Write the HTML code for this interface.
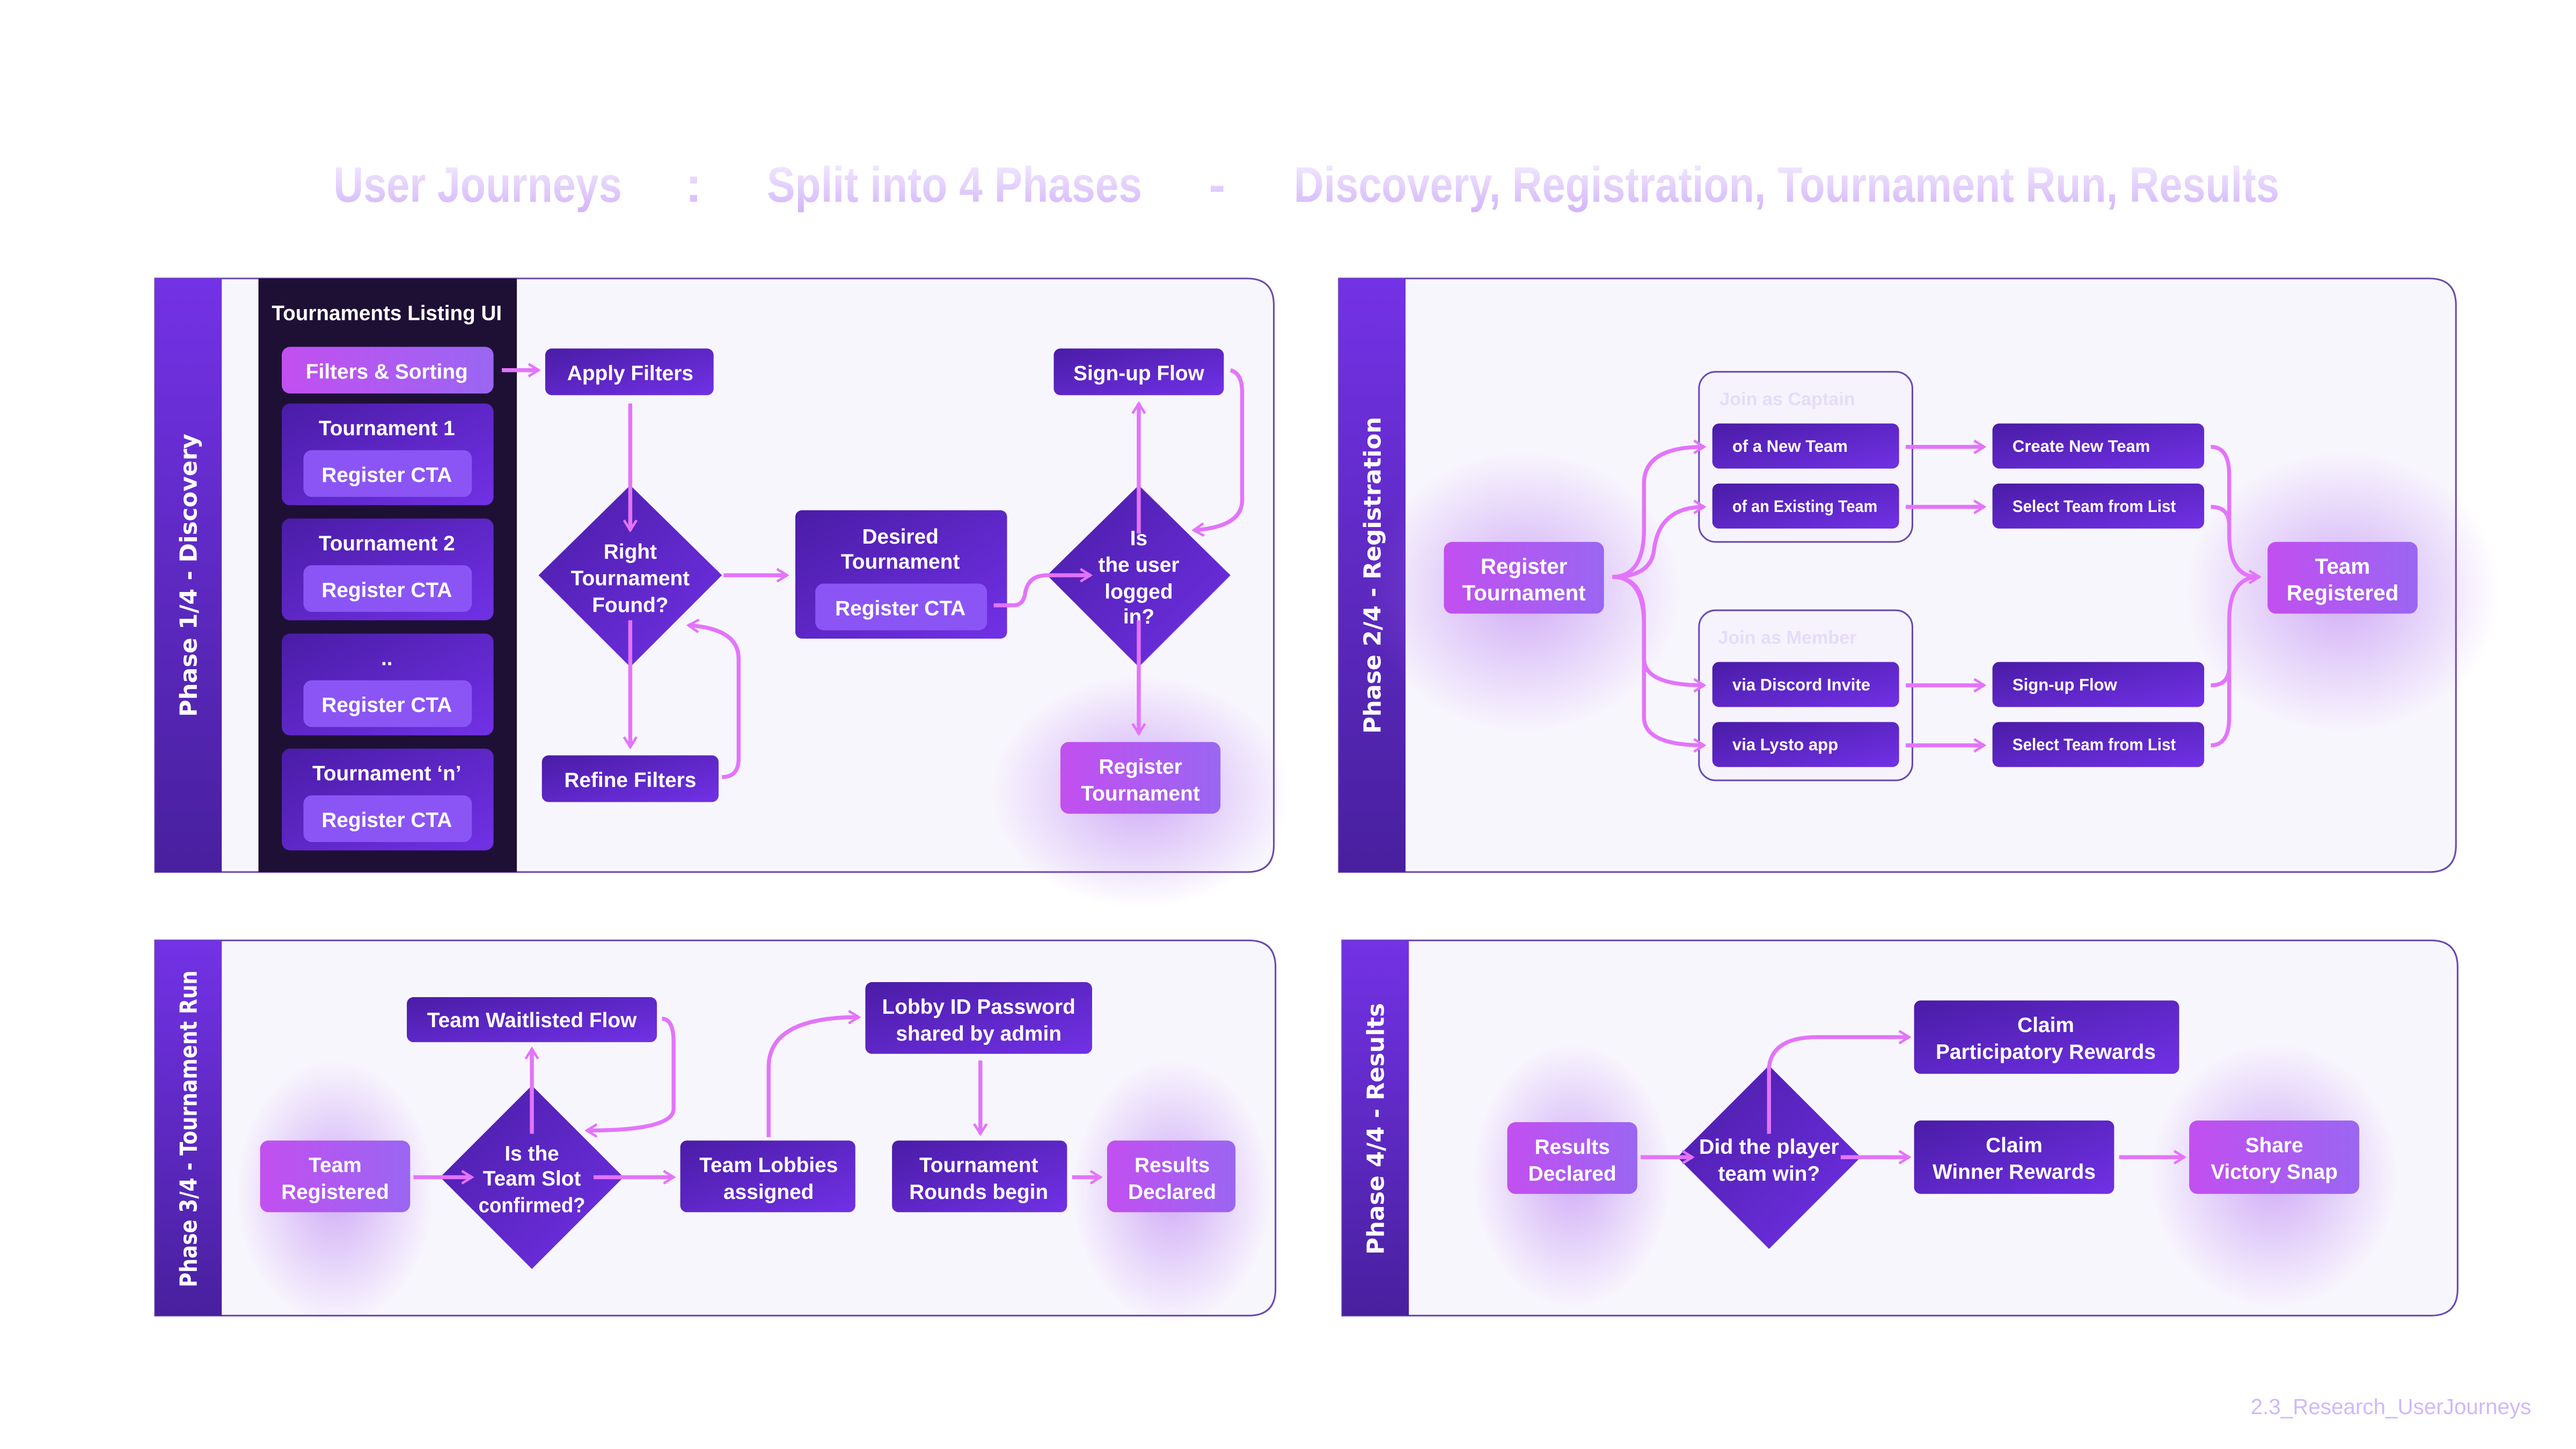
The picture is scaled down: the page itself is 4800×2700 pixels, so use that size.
<!DOCTYPE html>
<html><head><meta charset="utf-8"><style>
html,body{margin:0;padding:0;background:#fff;}
svg{display:block;}
text{font-family:"Liberation Sans Narrow","Liberation Sans",sans-serif;font-weight:bold;fill:#fff;text-anchor:middle;}
.s{font-family:"DejaVu Sans","Liberation Sans",sans-serif;font-weight:bold;}
</style></head><body>
<svg width="4800" height="2700" viewBox="0 0 1545 869" preserveAspectRatio="none" xmlns="http://www.w3.org/2000/svg">
<defs>
<linearGradient id="box" x1="0" y1="0" x2="1" y2="1"><stop offset="0" stop-color="#4a1ca6"/><stop offset="1" stop-color="#7131e6"/></linearGradient>
<linearGradient id="pink" x1="0" y1="0" x2="1" y2="0"><stop offset="0" stop-color="#c24ff0"/><stop offset="1" stop-color="#9a66f2"/></linearGradient>
<linearGradient id="side" x1="0" y1="0" x2="0" y2="1"><stop offset="0" stop-color="#7332e6"/><stop offset="1" stop-color="#48209e"/></linearGradient>
<linearGradient id="title" x1="0" y1="0" x2="0" y2="1"><stop offset="0" stop-color="#f6f0ff"/><stop offset="1" stop-color="#d2b4f8"/></linearGradient>
<radialGradient id="glow"><stop offset="0" stop-color="#b070f0" stop-opacity="0.55"/><stop offset="1" stop-color="#b070f0" stop-opacity="0"/></radialGradient>
<marker id="ah" viewBox="0 0 12 12" refX="10" refY="6" markerWidth="9" markerHeight="9" markerUnits="userSpaceOnUse" orient="auto"><path d="M2,1 L10,6 L2,11" fill="none" stroke="#e374fa" stroke-width="2"/></marker>
</defs>
<style>.c{fill:none;stroke:#e374fa;stroke-width:2.4;marker-end:url(#ah);} .cn{fill:none;stroke:#e374fa;stroke-width:2.4;}</style>

<!-- Title -->
<g style="font-size:30px">
<text x="200" y="121" textLength="173" lengthAdjust="spacingAndGlyphs" style="fill:url(#title);text-anchor:start">User Journeys</text>
<text x="416" y="121" style="fill:url(#title)">:</text>
<text x="460" y="121" textLength="225" lengthAdjust="spacingAndGlyphs" style="fill:url(#title);text-anchor:start">Split into 4 Phases</text>
<text x="730" y="121" style="fill:url(#title)">-</text>
<text x="776" y="121" textLength="591" lengthAdjust="spacingAndGlyphs" style="fill:url(#title);text-anchor:start">Discovery, Registration, Tournament Run, Results</text>
</g>

<!-- Panels -->
<path d="M93,167 H748 Q764,167 764,183 V507 Q764,523 748,523 H93 Z" fill="#f8f6fd" stroke="#6a4bb0" stroke-width="1"/>
<rect x="93" y="167" width="40" height="356" fill="url(#side)"/>
<path d="M803,167 H1457 Q1473,167 1473,183 V507 Q1473,523 1457,523 H803 Z" fill="#f8f6fd" stroke="#6a4bb0" stroke-width="1"/>
<rect x="803" y="167" width="40" height="356" fill="url(#side)"/>
<path d="M93,564 H749 Q765,564 765,580 V773 Q765,789 749,789 H93 Z" fill="#f8f6fd" stroke="#6a4bb0" stroke-width="1"/>
<rect x="93" y="564" width="40" height="225" fill="url(#side)"/>
<path d="M805,564 H1458 Q1474,564 1474,580 V773 Q1474,789 1458,789 H805 Z" fill="#f8f6fd" stroke="#6a4bb0" stroke-width="1"/>
<rect x="805" y="564" width="40" height="225" fill="url(#side)"/>

<text class="s" transform="translate(118,345) rotate(-90)" style="font-size:14px">Phase 1/4 - Discovery</text>
<text class="s" transform="translate(828,345) rotate(-90)" style="font-size:14px">Phase 2/4 - Registration</text>
<text class="s" transform="translate(118,677) rotate(-90)" textLength="190" lengthAdjust="spacingAndGlyphs" style="font-size:14px">Phase 3/4 - Tournament Run</text>
<text class="s" transform="translate(830,677) rotate(-90)" style="font-size:14px">Phase 4/4 - Results</text>

<!-- glows -->
<ellipse cx="684" cy="475" rx="90" ry="70" fill="url(#glow)"/>
<ellipse cx="914" cy="355" rx="95" ry="85" fill="url(#glow)"/>
<ellipse cx="1405" cy="355" rx="95" ry="85" fill="url(#glow)"/>
<ellipse cx="201" cy="715" rx="60" ry="80" fill="url(#glow)"/>
<ellipse cx="703" cy="715" rx="60" ry="80" fill="url(#glow)"/>
<ellipse cx="943" cy="705" rx="60" ry="80" fill="url(#glow)"/>
<ellipse cx="1364" cy="705" rx="75" ry="80" fill="url(#glow)"/>

<!-- Phase 1 -->
<rect x="155" y="167" width="155" height="356" fill="#1e1035"/>
<g style="font-size:12.5px">
<text x="232" y="192" textLength="138" lengthAdjust="spacingAndGlyphs">Tournaments Listing UI</text>
<rect x="169" y="208" width="127" height="28" rx="5" fill="url(#pink)"/>
<text x="232" y="227">Filters &amp; Sorting</text>
<rect x="169" y="242" width="127" height="61" rx="5" fill="url(#box)"/><text x="232" y="261">Tournament 1</text>
<rect x="182" y="270" width="101" height="28" rx="5" fill="#8b55f5"/><text x="232" y="289">Register CTA</text>
<rect x="169" y="311" width="127" height="61" rx="5" fill="url(#box)"/><text x="232" y="330">Tournament 2</text>
<rect x="182" y="339" width="101" height="28" rx="5" fill="#8b55f5"/><text x="232" y="358">Register CTA</text>
<rect x="169" y="380" width="127" height="61" rx="5" fill="url(#box)"/><text x="232" y="399">..</text>
<rect x="182" y="408" width="101" height="28" rx="5" fill="#8b55f5"/><text x="232" y="427">Register CTA</text>
<rect x="169" y="449" width="127" height="61" rx="5" fill="url(#box)"/><text x="232" y="468">Tournament ‘n’</text>
<rect x="182" y="477" width="101" height="28" rx="5" fill="#8b55f5"/><text x="232" y="496">Register CTA</text>

<rect x="327" y="209" width="101" height="28" rx="4" fill="url(#box)"/><text x="378" y="228">Apply Filters</text>
<path d="M378,291 L433,345 L378,400 L323,345 Z" fill="url(#box)"/>
<text x="378" y="335">Right</text><text x="378" y="351">Tournament</text><text x="378" y="367">Found?</text>
<rect x="477" y="306" width="127" height="77" rx="4" fill="url(#box)"/>
<text x="540" y="326">Desired</text><text x="540" y="341">Tournament</text>
<rect x="489" y="350" width="103" height="28" rx="5" fill="#8b55f5"/><text x="540" y="369">Register CTA</text>
<path d="M683,291 L738,345 L683,400 L628,345 Z" fill="url(#box)"/>
<text x="683" y="327">Is</text><text x="683" y="343">the user</text><text x="683" y="359">logged</text><text x="683" y="374">in?</text>
<rect x="632" y="209" width="102" height="28" rx="4" fill="url(#box)"/><text x="683" y="228">Sign-up Flow</text>
<rect x="636" y="445" width="96" height="43" rx="5" fill="url(#pink)"/><text x="684" y="464">Register</text><text x="684" y="480">Tournament</text>
<rect x="325" y="453" width="106" height="28" rx="4" fill="url(#box)"/><text x="378" y="472">Refine Filters</text>
</g>
<path class="c" d="M301,222 H323"/>
<path class="c" d="M378,242 V318"/>
<path class="c" d="M434,345 H472"/>
<path class="c" d="M596,363 H608 Q614,363 615,355 Q617,345 628,345 H654"/>
<path class="c" d="M683,320 V242"/>
<path class="c" d="M738,222 Q745,224 745,235 V300 Q745,316 716,318"/>
<path class="c" d="M683,372 V440"/>
<path class="c" d="M378,372 V448"/>
<path class="c" d="M433,466 Q443,466 443,455 V395 Q443,377 413,375"/>

<!-- Phase 2 -->
<g style="font-size:10px">
<rect x="1019" y="223" width="128" height="102" rx="10" fill="#f6f3fd" stroke="#6a4bb0" stroke-width="1"/>
<text x="1072" y="243" style="font-size:11px;fill:#e6dcf8">Join as Captain</text>
<rect x="1019" y="366" width="128" height="102" rx="10" fill="#f6f3fd" stroke="#6a4bb0" stroke-width="1"/>
<text x="1072" y="386" style="font-size:11px;fill:#e6dcf8">Join as Member</text>
<rect x="1027" y="254" width="112" height="27" rx="4" fill="url(#box)"/><text x="1039" y="271" style="text-anchor:start">of a New Team</text>
<rect x="1027" y="290" width="112" height="27" rx="4" fill="url(#box)"/><text x="1039" y="307" textLength="87" lengthAdjust="spacingAndGlyphs" style="text-anchor:start">of an Existing Team</text>
<rect x="1027" y="397" width="112" height="27" rx="4" fill="url(#box)"/><text x="1039" y="414" style="text-anchor:start">via Discord Invite</text>
<rect x="1027" y="433" width="112" height="27" rx="4" fill="url(#box)"/><text x="1039" y="450" style="text-anchor:start">via Lysto app</text>
<rect x="1195" y="254" width="127" height="27" rx="4" fill="url(#box)"/><text x="1207" y="271" style="text-anchor:start">Create New Team</text>
<rect x="1195" y="290" width="127" height="27" rx="4" fill="url(#box)"/><text x="1207" y="307" textLength="98" lengthAdjust="spacingAndGlyphs" style="text-anchor:start">Select Team from List</text>
<rect x="1195" y="397" width="127" height="27" rx="4" fill="url(#box)"/><text x="1207" y="414" style="text-anchor:start">Sign-up Flow</text>
<rect x="1195" y="433" width="127" height="27" rx="4" fill="url(#box)"/><text x="1207" y="450" textLength="98" lengthAdjust="spacingAndGlyphs" style="text-anchor:start">Select Team from List</text>
</g>
<g style="font-size:13px">
<rect x="866" y="325" width="96" height="43" rx="5" fill="url(#pink)"/><text x="914" y="344">Register</text><text x="914" y="360">Tournament</text>
<rect x="1360" y="325" width="90" height="43" rx="5" fill="url(#pink)"/><text x="1405" y="344">Team</text><text x="1405" y="360">Registered</text>
</g>
<path class="c" d="M967,346 Q985,346 986,320 V290 Q986,268 1022,268"/>
<path class="c" d="M967,346 Q990,346 992,330 Q995,304 1022,304"/>
<path class="c" d="M967,346 Q986,346 986,370 V395 Q986,411 1022,411"/>
<path class="c" d="M967,346 Q986,346 986,375 V430 Q986,447 1022,447"/>
<path class="c" d="M1143,268 H1190"/><path class="c" d="M1143,304 H1190"/>
<path class="c" d="M1143,411 H1190"/><path class="c" d="M1143,447 H1190"/>
<path class="cn" d="M1326,268 Q1337,268 1337,285 V320 Q1337,346 1354,346"/>
<path class="cn" d="M1326,304 Q1337,304 1337,315"/>
<path class="cn" d="M1326,411 Q1337,411 1337,400"/>
<path class="c" d="M1326,447 Q1337,447 1337,430 V372 Q1337,346 1355,346"/>

<!-- Phase 3 -->
<g style="font-size:12.5px">
<rect x="156" y="684" width="90" height="43" rx="5" fill="url(#pink)"/><text x="201" y="703">Team</text><text x="201" y="719">Registered</text>
<path d="M319,651 L374,706 L319,761 L264,706 Z" fill="url(#box)"/>
<text x="319" y="696">Is the</text><text x="319" y="711">Team Slot</text><text x="319" y="727" textLength="64" lengthAdjust="spacingAndGlyphs">confirmed?</text>
<rect x="244" y="598" width="150" height="27" rx="4" fill="url(#box)"/><text x="319" y="616">Team Waitlisted Flow</text>
<rect x="408" y="684" width="105" height="43" rx="4" fill="url(#box)"/><text x="461" y="703">Team Lobbies</text><text x="461" y="719">assigned</text>
<rect x="519" y="589" width="136" height="43" rx="4" fill="url(#box)"/><text x="587" y="608">Lobby ID Password</text><text x="587" y="624">shared by admin</text>
<rect x="535" y="684" width="105" height="43" rx="4" fill="url(#box)"/><text x="587" y="703">Tournament</text><text x="587" y="719">Rounds begin</text>
<rect x="664" y="684" width="77" height="43" rx="5" fill="url(#pink)"/><text x="703" y="703">Results</text><text x="703" y="719">Declared</text>
</g>
<path class="c" d="M248,706 H283"/>
<path class="c" d="M319,680 V629"/>
<path class="c" d="M397,611 Q404,611 404,625 V665 Q404,678 352,678"/>
<path class="c" d="M356,706 H404"/>
<path class="c" d="M461,682 V640 Q461,610 515,610"/>
<path class="c" d="M588,636 V680"/>
<path class="c" d="M643,706 H660"/>

<!-- Phase 4 -->
<g style="font-size:12.5px">
<rect x="904" y="673" width="78" height="43" rx="5" fill="url(#pink)"/><text x="943" y="692">Results</text><text x="943" y="708">Declared</text>
<path d="M1061,639 L1116,694 L1061,749 L1006,694 Z" fill="url(#box)"/>
<text x="1061" y="692" textLength="84" lengthAdjust="spacingAndGlyphs">Did the player</text><text x="1061" y="708">team win?</text>
<rect x="1148" y="600" width="159" height="44" rx="4" fill="url(#box)"/><text x="1227" y="619">Claim</text><text x="1227" y="635">Participatory Rewards</text>
<rect x="1148" y="672" width="120" height="44" rx="4" fill="url(#box)"/><text x="1208" y="691">Claim</text><text x="1208" y="707">Winner Rewards</text>
<rect x="1313" y="672" width="102" height="44" rx="5" fill="url(#pink)"/><text x="1364" y="691">Share</text><text x="1364" y="707">Victory Snap</text>
</g>
<path class="c" d="M984,694 H1015"/>
<path class="c" d="M1061,680 V640 Q1063,622 1090,622 H1145"/>
<path class="c" d="M1104,694 H1145"/>
<path class="c" d="M1271,694 H1310"/>

<text x="1434" y="848" style="font-family:'Liberation Sans',sans-serif;font-weight:normal;font-size:13px;fill:#d0b8fb">2.3_Research_UserJourneys</text>
</svg>
</body></html>
